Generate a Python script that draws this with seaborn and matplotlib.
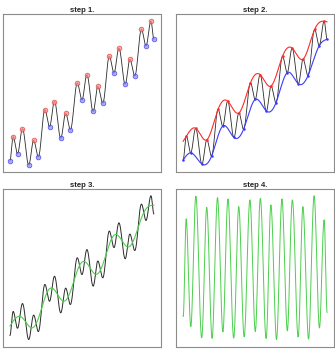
"""Four steps of one empirical mode decomposition sifting pass."""

import matplotlib

matplotlib.use("Agg")
import matplotlib.pyplot as plt
import numpy as np
import seaborn as sns

# signal: start point, alternating maxima / minima, end point
SIGNAL_T = [
    0.00, 0.33, 0.77, 1.27, 1.90, 2.40, 2.87, 3.53, 4.00, 4.50,
    5.13, 5.63, 6.10, 6.80, 7.27, 7.77, 8.40, 8.87, 9.37, 10.03,
    10.50, 11.00, 11.63, 12.10, 12.60, 13.27, 13.73, 14.23, 14.53,
]
SIGNAL_Y = [
    1.03, 3.47, 1.77, 4.27, 0.63, 3.10, 1.43, 6.20, 4.50, 7.03,
    3.33, 5.83, 4.17, 8.90, 7.20, 9.73, 6.03, 8.57, 6.87, 11.60,
    9.93, 12.43, 8.80, 11.30, 9.63, 14.33, 12.67, 15.17, 13.33,
]
# upper envelope value at the two ends of the signal
UPPER_ENDS = [2.93, 15.10]

TITLES = ["step 1.", "step 2.", "step 3.", "step 4."]

RED = "#ff2a2a"
BLUE = "#3a3aff"
GREEN = "#4ccf4c"
FRAME = "#8c8c8c"
INK = "#2b2b2b"


def natural_spline(knots_x, knots_y, xs):
    """Evaluate a natural cubic spline through the knots."""
    kx = np.asarray(knots_x, dtype=float)
    ky = np.asarray(knots_y, dtype=float)
    n = len(kx)
    h = np.diff(kx)
    a = np.zeros((n, n))
    b = np.zeros(n)
    a[0, 0] = 1.0
    a[-1, -1] = 1.0
    for i in range(1, n - 1):
        a[i, i - 1] = h[i - 1]
        a[i, i] = 2 * (h[i - 1] + h[i])
        a[i, i + 1] = h[i]
        b[i] = 3 * ((ky[i + 1] - ky[i]) / h[i] - (ky[i] - ky[i - 1]) / h[i - 1])
    c = np.linalg.solve(a, b)
    slope = (ky[1:] - ky[:-1]) / h - h * (2 * c[:-1] + c[1:]) / 3
    d = (c[1:] - c[:-1]) / (3 * h)
    idx = np.clip(np.searchsorted(kx, xs) - 1, 0, n - 2)
    dx = xs - kx[idx]
    return ky[idx] + slope[idx] * dx + c[idx] * dx**2 + d[idx] * dx**3


def smooth_signal(t, y, steps=24):
    """Draw the signal as half-waves between neighbouring extrema."""
    s = np.linspace(0, 1, steps, endpoint=False)
    ease = (1 - np.cos(np.pi * s)) / 2
    xs, ys = [], []
    for i in range(len(t) - 1):
        xs.append(t[i] + (t[i + 1] - t[i]) * s)
        ys.append(y[i] + (y[i + 1] - y[i]) * ease)
    xs.append([t[-1]])
    ys.append([y[-1]])
    return np.concatenate(xs), np.concatenate(ys)


def style_axes(ax, title):
    ax.set_xticks([])
    ax.set_yticks([])
    ax.set_xlabel("")
    ax.set_ylabel("")
    for spine in ax.spines.values():
        spine.set_color(FRAME)
        spine.set_linewidth(0.8)
    ax.set_title(title, fontsize=5.6, fontweight="bold", pad=0.8)


def line(ax, x, y, color, width):
    sns.lineplot(x=x, y=y, ax=ax, color=color, linewidth=width, sort=False, estimator=None)


def main():
    t = np.array(SIGNAL_T)
    y = np.array(SIGNAL_Y)
    max_idx = np.arange(1, len(t) - 1, 2)
    min_idx = np.concatenate([[0], np.arange(2, len(t) - 1, 2), [len(t) - 1]])

    sig_t, sig_y = smooth_signal(t, y)
    upper_t = np.concatenate([[t[0]], t[max_idx], [t[-1]]])
    upper_y = np.concatenate([[UPPER_ENDS[0]], y[max_idx], [UPPER_ENDS[1]]])
    upper = natural_spline(upper_t, upper_y, sig_t)
    lower = natural_spline(t[min_idx], y[min_idx], sig_t)
    mean = (upper + lower) / 2
    detail = sig_y - mean

    sns.set_theme(style="white")
    plt.rcParams["font.family"] = ["Liberation Sans", "DejaVu Sans"]

    fig = plt.figure(figsize=(3.35, 3.49), dpi=100)
    w, hgt = 0.473, 0.453
    rects = [
        (0.008, 0.507, w, hgt),
        (0.525, 0.507, w, hgt),
        (0.008, 0.0066, w, hgt),
        (0.525, 0.0066, w, hgt),
    ]
    axes = [fig.add_axes(r) for r in rects]

    # step 1: signal with its extrema
    ax = axes[0]
    line(ax, sig_t, sig_y, INK, 0.6)
    ax.plot(t[max_idx], y[max_idx], "o", ms=3.4, mfc=(1, 0.55, 0.55, 0.75),
            mec=(0.85, 0.2, 0.2, 0.8), mew=0.5)
    ax.plot(t[min_idx], y[min_idx], "o", ms=3.4, mfc=(0.55, 0.55, 1, 0.75),
            mec=(0.2, 0.2, 0.85, 0.8), mew=0.5)

    # step 2: envelopes through the extrema
    ax = axes[1]
    line(ax, sig_t, sig_y, INK, 0.6)
    line(ax, sig_t, upper, RED, 0.8)
    line(ax, sig_t, lower, BLUE, 0.8)
    ax.plot(t[max_idx], y[max_idx], "o", ms=1.8, color=RED, mew=0)
    ax.plot(t[min_idx], y[min_idx], "o", ms=1.8, color=BLUE, mew=0)

    # step 3: mean of the envelopes
    ax = axes[2]
    line(ax, sig_t, sig_y, INK, 0.7)
    line(ax, sig_t, mean, GREEN, 0.8)

    # step 4: signal minus mean
    ax = axes[3]
    line(ax, sig_t, detail, GREEN, 0.7)

    for ax, title in zip(axes, TITLES):
        ax.margins(x=0.05, y=0.05)
        style_axes(ax, title)

    fig.savefig("out.png", dpi=100)
    plt.close(fig)


if __name__ == "__main__":
    main()
